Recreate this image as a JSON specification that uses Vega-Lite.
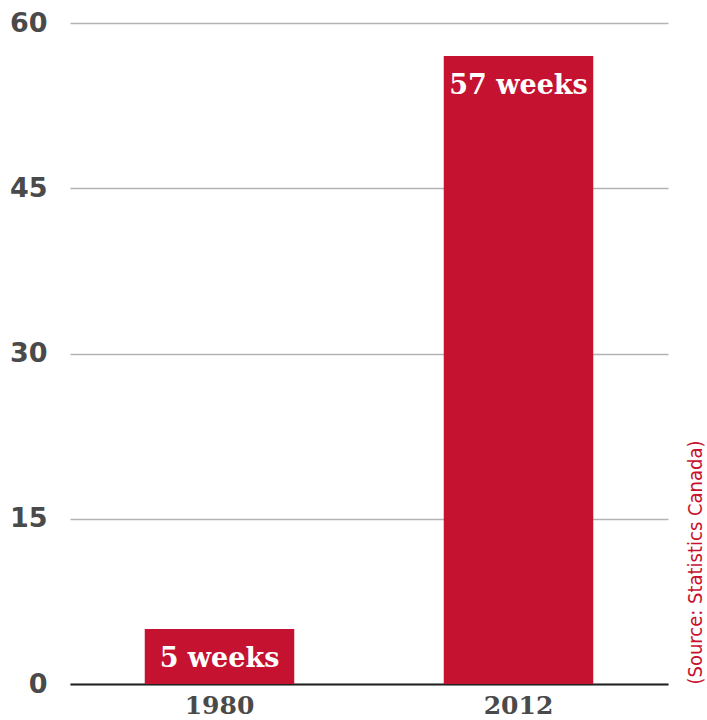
{
  "$schema": "https://vega.github.io/schema/vega-lite/v6.json",
  "autosize": {"type": "none"},
  "padding": {"left": 70, "top": 23, "right": 39, "bottom": 36},
  "width": 598,
  "height": 661,
  "background": "white",
  "data": {"values": [
    {"year": "1980", "weeks": 5, "label": "5 weeks"},
    {"year": "2012", "weeks": 57, "label": "57 weeks"}
  ]},
  "encoding": {
    "x": {
      "field": "year", "type": "nominal", "sort": null,
      "scale": {"paddingInner": 0.5, "paddingOuter": 0.25},
      "axis": {
        "title": null, "labelAngle": 0, "ticks": false,
        "domainColor": "#222222", "domainWidth": 2,
        "labelFont": "DejaVu Serif", "labelFontWeight": "bold", "labelFontSize": 25,
        "labelColor": "#4a4a4a", "labelPadding": 9
      }
    }
  },
  "layer": [
    {
      "layer": [
        {
          "mark": {"type": "bar", "color": "#c41230"},
          "encoding": {
            "y": {
              "field": "weeks", "type": "quantitative",
              "scale": {"domain": [0, 60]},
              "axis": {
                "title": null, "values": [0, 15, 30, 45, 60], "domain": false, "ticks": false,
                "gridColor": "#b3b3b3", "gridWidth": 1.5,
                "labelFont": "DejaVu Sans", "labelFontWeight": "bold", "labelFontSize": 27,
                "labelColor": "#4a4a4a", "labelPadding": 23
              }
            }
          }
        },
        {
          "mark": {"type": "text", "color": "white", "font": "DejaVu Serif", "fontWeight": "bold", "fontSize": 27, "baseline": "middle", "dy": 30},
          "encoding": {
            "y": {"field": "weeks", "type": "quantitative"},
            "text": {"field": "label"}
          }
        }
      ]
    },
    {
      "mark": {"type": "point", "opacity": 0},
      "encoding": {
        "y": {
          "field": "weeks", "type": "quantitative",
          "scale": {"domain": [0, 60]},
          "axis": {
            "orient": "right", "grid": false, "labels": false, "ticks": false, "domain": false,
            "title": "(Source: Statistics Canada)",
            "titleAngle": 270, "titleAlign": "left", "titleBaseline": "middle",
            "titleX": 27, "titleY": 661,
            "titleFont": "DejaVu Sans Condensed, Liberation Sans Narrow, Liberation Sans", "titleFontSize": 20, "titleFontWeight": "normal",
            "titleColor": "#c8102e"
          }
        }
      }
    }
  ],
  "resolve": {"axis": {"y": "independent"}},
  "config": {"view": {"stroke": null}}
}
